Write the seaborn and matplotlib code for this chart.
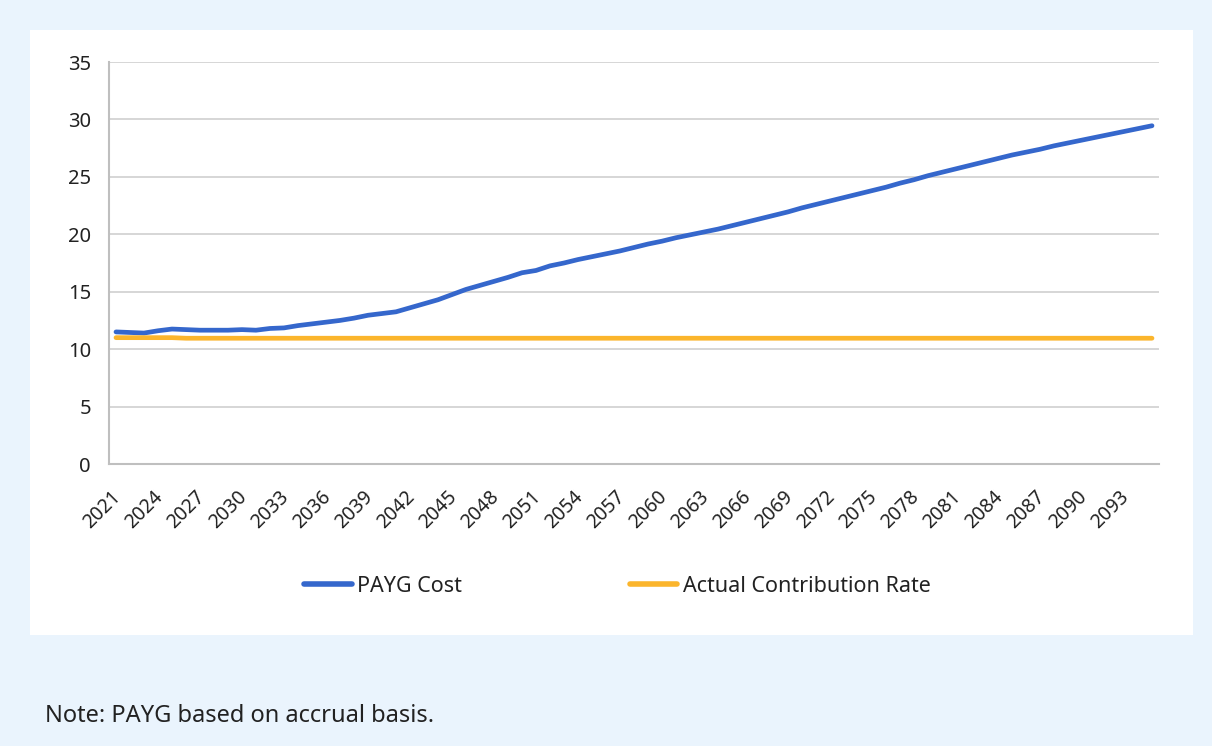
import matplotlib
matplotlib.use("Agg")
import matplotlib.pyplot as plt
from matplotlib.patches import Rectangle
from matplotlib.transforms import ScaledTranslation
import seaborn as sns
import pandas as pd
import numpy as np

years = list(range(2021, 2096))
payg_cost = [
    11.5, 11.45, 11.4, 11.6, 11.75, 11.7, 11.65, 11.65, 11.65, 11.7,
    11.65, 11.8, 11.85, 12.05, 12.2, 12.35, 12.5, 12.7, 12.95, 13.1,
    13.25, 13.6, 13.95, 14.3, 14.75, 15.2, 15.55, 15.9, 16.25, 16.65,
    16.85, 17.25, 17.5, 17.8, 18.05, 18.3, 18.55, 18.85, 19.15, 19.4,
    19.7, 19.95, 20.2, 20.45, 20.75, 21.05, 21.35, 21.65, 21.95, 22.3,
    22.6, 22.9, 23.2, 23.5, 23.8, 24.1, 24.45, 24.75, 25.1, 25.4,
    25.7, 26.0, 26.3, 26.6, 26.9, 27.15, 27.4, 27.7, 27.95, 28.2,
    28.45, 28.7, 28.95, 29.2, 29.45,
]
contribution_rate = [11.0] * 5 + [10.95] * 70
series_names = ["PAYG Cost", "Actual Contribution Rate"]
colors = ["#3567CC", "#FBB52C"]
tick_years = list(range(2021, 2096, 3))
y_ticks = [0, 5, 10, 15, 20, 25, 30, 35]
note = "Note: PAYG based on accrual basis."

df = pd.concat([
    pd.DataFrame({"Year": years, "Value": payg_cost, "Series": series_names[0]}),
    pd.DataFrame({"Year": years, "Value": contribution_rate, "Series": series_names[1]}),
])

sns.set_theme(style="white")
plt.rcParams["font.family"] = ["Noto Sans", "DejaVu Sans"]
plt.rcParams["text.color"] = "#222222"

W, H = 1212, 746
fig = plt.figure(figsize=(W / 100, H / 100), dpi=100)
fig.patch.set_facecolor("#EAF4FD")
fig.patches.append(Rectangle((30 / W, 1 - 635 / H), (1193 - 30) / W, (635 - 30) / H,
                             transform=fig.transFigure, facecolor="white",
                             edgecolor="none", zorder=-10))

ax = fig.add_axes([109 / W, 1 - 464 / H, (1159 - 109) / W, (464 - 62) / H])
ax.set_zorder(2)
ax.set_facecolor("white")
sns.lineplot(data=df, x="Year", y="Value", hue="Series", palette=colors,
             hue_order=series_names, linewidth=3.4, ax=ax, legend=True)
for ln in ax.get_lines():
    ln.set_solid_capstyle("round")

ax.set_xlim(years[0] - 0.5, years[-1] + 0.5)
ax.set_ylim(0, 35)
ax.set_yticks(y_ticks)
ax.set_xlabel("")
ax.set_ylabel("")

# ticks at category boundaries, labels at category centres
ax.set_xticks([y - 0.5 for y in tick_years] + [years[-1] + 0.5])
ax.set_xticklabels([])
ax.set_xticks(tick_years, minor=True)
ax.set_xticklabels([str(t) for t in tick_years], minor=True, rotation=45,
                   ha="right", rotation_mode="anchor", fontsize=14, color="#222222")
ax.tick_params(axis="x", which="minor", length=0, pad=10)
ax.tick_params(axis="x", which="major", length=6, width=1.5, color="#BFBFBF", direction="out")
ax.tick_params(axis="y", length=7, width=1.5, color="#BFBFBF", direction="out",
               labelsize=14.5, labelcolor="#222222", pad=6)
offset = ScaledTranslation(-5 / 100, -9 / 100, fig.dpi_scale_trans)
for lab in ax.get_xticklabels(minor=True):
    lab.set_transform(lab.get_transform() + offset)

ax.grid(axis="y", color="#D6D6D6", linewidth=1.4)
ax.grid(axis="x", visible=False)
for s in ["top", "right"]:
    ax.spines[s].set_visible(False)
for s in ["left", "bottom"]:
    ax.spines[s].set_color("#BFBFBF")
    ax.spines[s].set_linewidth(1.5)

handles, labels = ax.get_legend_handles_labels()
ax.get_legend().remove()
leg = fig.legend(handles, labels, loc="center left", bbox_to_anchor=(285 / W, 1 - 586 / H),
                 ncol=2, frameon=False, fontsize=15.5, handlelength=2.2,
                 handletextpad=0.25, columnspacing=7.8)
for lh in leg.get_lines():
    lh.set_linewidth(4)

fig.text(45 / W, 1 - 716 / H, note, fontsize=17, va="center", ha="left", color="#222222")

fig.savefig("out.png", dpi=100, facecolor=fig.get_facecolor())
